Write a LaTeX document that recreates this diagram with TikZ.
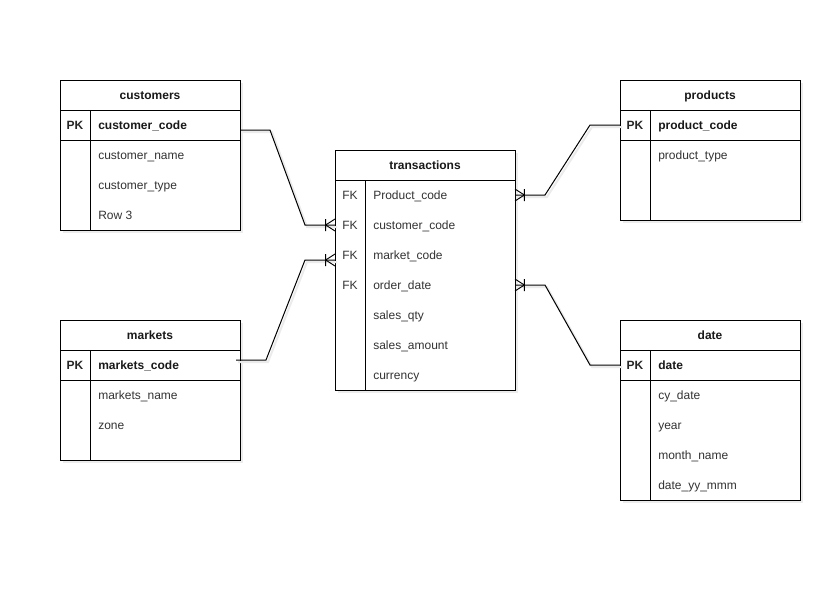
\documentclass[tikz,border=0pt]{standalone}
\usepackage{fontspec}
\setmainfont{Liberation Sans}
\usetikzlibrary{shadows}
\begin{document}
\begin{tikzpicture}[x=0.75pt,y=-0.75pt,
  tbl/.style={draw=black, line width=0.75pt, fill=white, minimum width=135pt, anchor=north west, inner sep=0pt,
    drop shadow={shadow xshift=2pt, shadow yshift=-2pt, opacity=0.12, fill=black!60}},
  txt/.style={font=\fontsize{9}{10}\selectfont, inner sep=0pt, text height=6.6pt, text depth=2pt},
  hdr/.style={txt, font=\bfseries\fontsize{9}{10}\selectfont, text=black!90},
  fld/.style={txt, text=black!80, anchor=west},
  key/.style={txt, font=\bfseries\fontsize{9}{10}\selectfont, text=black!90, anchor=west},
  tag/.style={txt, text=black!80},
  pk/.style={txt, font=\bfseries\fontsize{9}{10}\selectfont, text=black!85},
  ln/.style={line width=0.75pt},
  rel/.style={draw=black, line width=0.75pt, preaction={draw=black!8, line width=1.5pt, transform canvas={xshift=1.5pt,yshift=-1.5pt}}}
]
\useasboundingbox (0,0) rectangle (837,608);

% ---------- customers ----------
\node[tbl, minimum height=112.5pt] (cust) at (60,80) {};
\draw[ln] (60,110) -- (240,110);
\draw[ln] (60,140) -- (240,140);
\draw[ln] (90,110) -- (90,230);
\node[hdr] (custH) at (150,96) {customers};
\node[pk] (custPKt) at (75,126) {PK};
\node[key] (custPK) at (98,126) {customer\_code};
\node[fld] (cust1) at (98,156) {customer\_name};
\node[fld] (cust2) at (98,186) {customer\_type};
\node[fld] (cust3) at (98,216) {Row 3};

% ---------- markets ----------
\node[tbl, minimum height=105pt] (mkt) at (60,320) {};
\draw[ln] (60,350) -- (240,350);
\draw[ln] (60,380) -- (240,380);
\draw[ln] (90,350) -- (90,460);
\node[hdr] (mktH) at (150,336) {markets};
\node[pk] (mktPKt) at (75,366) {PK};
\node[key] (mktPK) at (98,366) {markets\_code};
\node[fld] (mkt1) at (98,396) {markets\_name};
\node[fld] (mkt2) at (98,426) {zone};

% ---------- transactions ----------
\node[tbl, minimum height=180pt] (tr) at (335,150) {};
\draw[ln] (335,180) -- (515,180);
\draw[ln] (365,180) -- (365,390);
\node[hdr] (trH) at (425,166) {transactions};
\node[tag] (trF1) at (350,196) {FK};
\node[tag] (trF2) at (350,226) {FK};
\node[tag] (trF3) at (350,256) {FK};
\node[tag] (trF4) at (350,286) {FK};
\node[fld] (tr1) at (373,196) {Product\_code};
\node[fld] (tr2) at (373,226) {customer\_code};
\node[fld] (tr3) at (373,256) {market\_code};
\node[fld] (tr4) at (373,286) {order\_date};
\node[fld] (tr5) at (373,316) {sales\_qty};
\node[fld] (tr6) at (373,346) {sales\_amount};
\node[fld] (tr7) at (373,376) {currency};

% ---------- products ----------
\node[tbl, minimum height=105pt] (prod) at (620,80) {};
\draw[ln] (620,110) -- (800,110);
\draw[ln] (620,140) -- (800,140);
\draw[ln] (650,110) -- (650,220);
\node[hdr] (prodH) at (710,96) {products};
\node[pk] (prodPKt) at (635,126) {PK};
\node[key] (prodPK) at (658,126) {product\_code};
\node[fld] (prod1) at (658,156) {product\_type};

% ---------- date ----------
\node[tbl, minimum height=135pt] (dt) at (620,320) {};
\draw[ln] (620,350) -- (800,350);
\draw[ln] (620,380) -- (800,380);
\draw[ln] (650,350) -- (650,500);
\node[hdr] (dtH) at (710,336) {date};
\node[pk] (dtPKt) at (635,366) {PK};
\node[key] (dtPK) at (658,366) {date};
\node[fld] (dt1) at (658,396) {cy\_date};
\node[fld] (dt2) at (658,426) {year};
\node[fld] (dt3) at (658,456) {month\_name};
\node[fld] (dt4) at (658,486) {date\_yy\_mmm};

% ---------- connector points ----------
\coordinate (cA) at (240,130);
\coordinate (cB) at (270,130);
\coordinate (cC) at (305,225);
\coordinate (cD) at (335,225);
\coordinate (mA) at (236,360);
\coordinate (mB) at (266,360);
\coordinate (mC) at (305,260);
\coordinate (mD) at (335,260);
\coordinate (pA) at (620,125);
\coordinate (pB) at (590,125);
\coordinate (pC) at (545,195);
\coordinate (pD) at (515,195);
\coordinate (dA) at (620,365);
\coordinate (dB) at (590,365);
\coordinate (dC) at (545,285);
\coordinate (dD) at (515,285);

\path[rel] (cA) -- (cB) -- (cC) -- (cD);
\path[rel] (mA) -- (mB) -- (mC) -- (mD);
\path[rel] (pA) -- (pB) -- (pC) -- (pD);
\path[rel] (dA) -- (dB) -- (dC) -- (dD);

% crow's feet (one or many)
\foreach \p/\s in {cD/1, mD/1, pD/-1, dD/-1}{
  \draw[line width=0.7pt] ([xshift=-7*\s]\p) -- ([yshift=-4.5]\p)
        ([xshift=-7*\s]\p) -- ([yshift=4.5]\p)
        ([xshift=-7*\s,yshift=-4.5]\p) -- ([xshift=-7*\s,yshift=4.5]\p);
}
\end{tikzpicture}
\end{document}
